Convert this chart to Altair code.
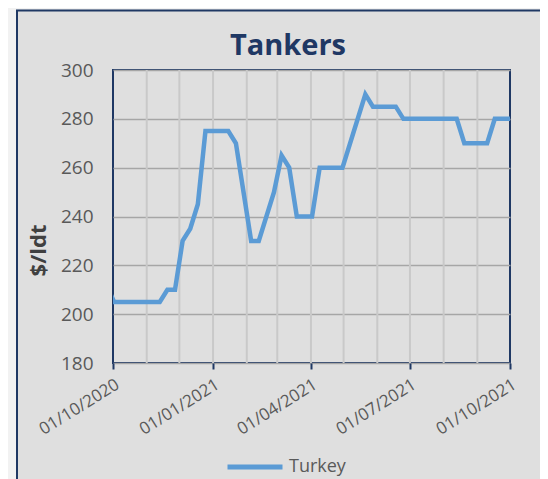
import altair as alt
import pandas as pd

# ---- data ----
dates = ["2020-09-25", "2020-10-02", "2020-11-13", "2020-11-20", "2020-11-27",
         "2020-12-04", "2020-12-11", "2020-12-18", "2020-12-25", "2021-01-15",
         "2021-01-22", "2021-02-05", "2021-02-12", "2021-02-26", "2021-03-05",
         "2021-03-12", "2021-03-19", "2021-04-02", "2021-04-09", "2021-04-30",
         "2021-05-21", "2021-05-28", "2021-06-18", "2021-06-25", "2021-08-13",
         "2021-08-20", "2021-09-10", "2021-09-17", "2021-10-01"]
prices = [212, 205, 205, 210, 210,
          230, 235, 245, 275, 275,
          270, 230, 230, 250, 265,
          260, 240, 240, 260, 260,
          290, 285, 285, 280, 280,
          270, 270, 280, 280]
series_name = "Turkey"
month_lines = ["2020-11-01", "2020-12-01", "2021-01-01", "2021-02-01", "2021-03-01",
               "2021-04-01", "2021-05-01", "2021-06-01", "2021-07-01", "2021-08-01",
               "2021-09-01"]
quarter_ticks = ["2020-10-01", "2021-01-01", "2021-04-01", "2021-07-01", "2021-10-01"]
y_ticks = [180, 200, 220, 240, 260, 280, 300]
chart_title = "Tankers"
y_title = "$/ldt"

df = pd.DataFrame({"date": dates, "price": prices, "series": series_name})
months_df = pd.DataFrame({"m": month_lines})
one = pd.DataFrame({"k": [0]})

W, H = 397, 293
FONT = "Open Sans"
NAVY = "#1F3864"
LINE = "#5B9BD5"
LABEL = "#595959"


def dt(s):
    y, m, d = map(int, s.split("-"))
    return alt.DateTime(year=y, month=m, date=d, utc=True)


xscale = alt.Scale(type="utc", domain=[dt(quarter_ticks[0]), dt(quarter_ticks[-1])])
yscale = alt.Scale(domain=[y_ticks[0], y_ticks[-1]], nice=False, zero=False)

x_axis = alt.Axis(values=[dt(q) for q in quarter_ticks], format="%d/%m/%Y",
                  labelAngle=328, labelAlign="right", labelBaseline="top",
                  labelFont=FONT, labelFontSize=17, labelColor=LABEL,
                  labelFlush=False, labelOverlap=False, labelBound=False,
                  labelPadding=7, grid=False, domain=False, ticks=True,
                  tickColor=NAVY, tickWidth=2, tickSize=6, title=None)

# decorative outer frame (outside the plot area)
left_strip = alt.Chart(one).mark_rect(color="#F2F2F2").encode(
    x=alt.value(-105), x2=alt.value(-97), y=alt.value(-62), y2=alt.value(520))
top_strip = alt.Chart(one).mark_rect(color="#F2F2F2").encode(
    x=alt.value(-105), x2=alt.value(520), y=alt.value(-62), y2=alt.value(-60.5))
frame_left = alt.Chart(one).mark_rule(color=NAVY, strokeWidth=2).encode(
    x=alt.value(-96), y=alt.value(-59.5), y2=alt.value(520))
frame_top = alt.Chart(one).mark_rule(color=NAVY, strokeWidth=2).encode(
    x=alt.value(-97), x2=alt.value(520), y=alt.value(-59.5))

vgrid = alt.Chart(months_df).mark_rule(color="#C9C9C9", strokeWidth=2).encode(
    x=alt.X("m:T", scale=xscale, axis=x_axis))

line = alt.Chart(df).mark_line(strokeWidth=4.5, clip=True).encode(
    x=alt.X("date:T", scale=xscale, axis=x_axis),
    y=alt.Y("price:Q", scale=yscale,
            axis=alt.Axis(values=y_ticks, grid=True, gridColor="#A6A6A6", gridWidth=1.4,
                          domain=False, ticks=False, tickSize=0, labelPadding=20,
                          labelFont=FONT, labelFontSize=19, labelColor=LABEL,
                          title=y_title, titleFont=FONT, titleFontSize=22,
                          titleFontWeight="bold", titleColor="#404040",
                          titleAngle=270, titleX=-75, titleY=180,
                          titleAlign="center", titleBaseline="middle")),
    color=alt.Color("series:N", scale=alt.Scale(range=[LINE]),
                    legend=alt.Legend(title=None, orient="none", legendX=112, legendY=367,
                                      symbolType="stroke", symbolSize=3025,
                                      symbolStrokeWidth=5, labelFont=FONT,
                                      labelFontSize=18, labelColor=LABEL, labelOffset=4)),
)

title = alt.Chart(one).mark_text(text=chart_title, font=FONT, fontSize=29, fontWeight="bold",
                                 color=NAVY, align="center", baseline="alphabetic").encode(
    x=alt.value(175), y=alt.value(-15.5))

chart = alt.layer(left_strip, top_strip, frame_left, frame_top, vgrid, line, title).properties(
    width=W, height=H,
    padding={"left": 105, "top": 62, "right": 30, "bottom": 116},
    autosize=alt.AutoSizeParams(type="none"),
).configure(background="#DFDFDF").configure_view(stroke=NAVY, strokeWidth=2)

chart.save("out.html", embed_options={"renderer": "svg", "actions": False})
